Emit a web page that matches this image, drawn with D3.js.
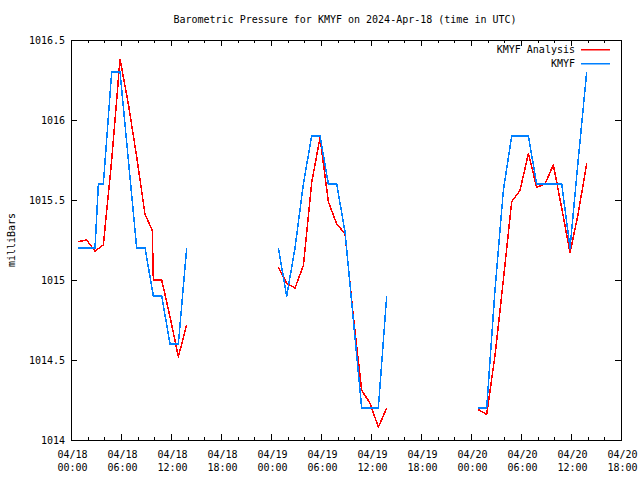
<!DOCTYPE html>
<html>
<head>
<meta charset="utf-8">
<script src="https://cdn.jsdelivr.net/npm/d3@7/dist/d3.min.js"></script>
<style>
  html, body { margin: 0; padding: 0; background: #fff; }
  text { font-family: "DejaVu Sans Mono", "Liberation Mono", monospace; font-size: 10px; fill: #000; }
</style>
</head>
<body>
<svg id="chart" width="640" height="480"></svg>
<script>
// ---- data ----
const chartTitle = "Barometric Pressure for KMYF on 2024-Apr-18 (time in UTC)";
const yLabel = "milliBars";
const seriesNames = ["KMYF Analysis", "KMYF"];
const seriesColors = ["#ff0000", "#0080ff"];

// KMYF Analysis (red)
const analysisTimes = [
  "2024-04-18T00:53","2024-04-18T01:53","2024-04-18T02:53","2024-04-18T03:53","2024-04-18T04:53",
  "2024-04-18T05:53","2024-04-18T06:53","2024-04-18T07:53","2024-04-18T08:53","2024-04-18T09:45",
  "2024-04-18T09:53","2024-04-18T10:53","2024-04-18T11:53","2024-04-18T12:53","2024-04-18T13:53",
  null,
  "2024-04-19T00:53","2024-04-19T01:53","2024-04-19T02:53","2024-04-19T03:53","2024-04-19T04:53",
  "2024-04-19T05:53","2024-04-19T06:53","2024-04-19T07:53","2024-04-19T08:53","2024-04-19T09:53",
  "2024-04-19T10:53","2024-04-19T11:53","2024-04-19T12:53","2024-04-19T13:53",
  null,
  "2024-04-20T00:53","2024-04-20T01:53","2024-04-20T02:53","2024-04-20T03:53","2024-04-20T04:53",
  "2024-04-20T05:53","2024-04-20T06:53","2024-04-20T07:53","2024-04-20T08:53","2024-04-20T09:53",
  "2024-04-20T10:53","2024-04-20T11:53","2024-04-20T12:53","2024-04-20T13:53"
];
const analysisValues = [
  1015.24,1015.25,1015.18,1015.22,1015.75,
  1016.38,1016.10,1015.77,1015.41,1015.31,
  1015.00,1015.00,1014.77,1014.52,1014.72,
  null,
  1015.08,1014.98,1014.95,1015.09,1015.61,
  1015.89,1015.49,1015.35,1015.29,1014.77,
  1014.31,1014.23,1014.08,1014.20,
  null,
  1014.19,1014.16,1014.53,1015.00,1015.49,
  1015.56,1015.79,1015.58,1015.60,1015.72,
  1015.45,1015.17,1015.42,1015.73
];

// KMYF observations (blue)
const obsTimes = [
  "2024-04-18T00:53","2024-04-18T01:53","2024-04-18T02:53","2024-04-18T03:17","2024-04-18T03:53",
  "2024-04-18T04:53","2024-04-18T05:53","2024-04-18T06:53","2024-04-18T07:53","2024-04-18T08:53",
  "2024-04-18T09:53","2024-04-18T10:53","2024-04-18T11:53","2024-04-18T12:53","2024-04-18T13:53",
  null,
  "2024-04-19T00:53","2024-04-19T01:53","2024-04-19T02:53","2024-04-19T03:53","2024-04-19T04:53",
  "2024-04-19T05:53","2024-04-19T06:53","2024-04-19T07:53","2024-04-19T08:53","2024-04-19T09:53",
  "2024-04-19T10:53","2024-04-19T11:53","2024-04-19T12:53","2024-04-19T13:53",
  null,
  "2024-04-20T00:53","2024-04-20T01:53","2024-04-20T02:53","2024-04-20T03:53","2024-04-20T04:53",
  "2024-04-20T05:53","2024-04-20T06:53","2024-04-20T07:53","2024-04-20T08:53","2024-04-20T09:53",
  "2024-04-20T10:53","2024-04-20T11:53","2024-04-20T12:53","2024-04-20T13:53"
];
const obsValues = [
  1015.2,1015.2,1015.2,1015.6,1015.6,
  1016.3,1016.3,1015.75,1015.2,1015.2,
  1014.9,1014.9,1014.6,1014.6,1015.2,
  null,
  1015.2,1014.9,1015.2,1015.6,1015.9,
  1015.9,1015.6,1015.6,1015.3,1014.75,
  1014.2,1014.2,1014.2,1014.9,
  null,
  1014.2,1014.2,1014.94,1015.56,1015.9,
  1015.9,1015.9,1015.6,1015.6,1015.6,
  1015.6,1015.2,1015.76,1016.3
];

const yTickValues = [1014, 1014.5, 1015, 1015.5, 1016, 1016.5];
const xStart = "2024-04-18T00:00";
const xEnd = "2024-04-20T18:00";

// ---- drawing ----
const W = 640, H = 480;
const M = { left: 71, right: 19, top: 40, bottom: 40 };
const svg = d3.select("#chart");
const parse = s => s === null ? null : new Date(s + ":00Z");

const x = d3.scaleUtc().domain([parse(xStart), parse(xEnd)]).range([M.left, W - M.right]);
const y = d3.scaleLinear().domain([1014, 1016.5]).range([H - M.bottom, M.top]);

const fmtDate = d3.utcFormat("%m/%d");
const fmtTime = d3.utcFormat("%H:%M");

// minor x ticks (2h), bottom & top
const minorB = d3.axisBottom(x).ticks(d3.utcHour.every(2)).tickSizeInner(-3).tickSizeOuter(0).tickFormat("");
const minorT = d3.axisTop(x).ticks(d3.utcHour.every(2)).tickSizeInner(-3).tickSizeOuter(0).tickFormat("");
svg.append("g").attr("transform", `translate(0,${H - M.bottom})`).call(minorB);
svg.append("g").attr("transform", `translate(0,${M.top})`).call(minorT);

// major x ticks (6h)
const majorB = d3.axisBottom(x).ticks(d3.utcHour.every(6)).tickSizeInner(-6).tickSizeOuter(0).tickPadding(8);
const gxb = svg.append("g").attr("transform", `translate(0,${H - M.bottom})`).call(majorB);
gxb.selectAll(".tick text").each(function(d) {
  const t = d3.select(this);
  t.text(null).attr("y", 18).attr("dy", null);
  t.append("tspan").attr("x", 1).text(fmtDate(d));
  t.append("tspan").attr("x", 1).attr("dy", 13).text(fmtTime(d));
});
const majorT = d3.axisTop(x).ticks(d3.utcHour.every(6)).tickSizeInner(-6).tickSizeOuter(0).tickFormat("");
svg.append("g").attr("transform", `translate(0,${M.top})`).call(majorT);

// y axes
const yl = d3.axisLeft(y).tickValues(yTickValues).tickSizeInner(-6).tickSizeOuter(0).tickPadding(6).tickFormat(d => String(d));
const gyl = svg.append("g").attr("transform", `translate(${M.left},0)`).call(yl);
gyl.selectAll(".tick text").attr("dy", "0.35em");
const yr = d3.axisRight(y).tickValues(yTickValues).tickSizeInner(-6).tickSizeOuter(0).tickFormat("");
svg.append("g").attr("transform", `translate(${W - M.right},0)`).call(yr);

svg.selectAll(".domain").remove();
svg.selectAll(".tick line").attr("stroke", "#000").attr("shape-rendering", "crispEdges");
svg.selectAll(".tick text").style("font-family", "DejaVu Sans Mono").style("font-size", "10px");

// frame
svg.append("rect")
  .attr("x", M.left + 0.5).attr("y", M.top + 0.5)
  .attr("width", W - M.left - M.right).attr("height", H - M.top - M.bottom)
  .attr("fill", "none").attr("stroke", "#000").attr("stroke-width", 1)
  .attr("shape-rendering", "crispEdges");

// series
const line = d3.line()
  .defined(d => d.t !== null && d.v !== null)
  .x(d => x(d.t)).y(d => y(d.v));

const series = [
  analysisTimes.map((t, i) => ({ t: parse(t), v: analysisValues[i] })),
  obsTimes.map((t, i) => ({ t: parse(t), v: obsValues[i] }))
];
series.forEach((data, i) => {
  svg.append("path").datum(data)
    .attr("fill", "none").attr("stroke", seriesColors[i]).attr("stroke-width", 1.5)
    .attr("stroke-linejoin", "round")
    .attr("shape-rendering", "crispEdges")
    .attr("d", line);
});

// legend
const lx1 = 581, lx2 = 610;
seriesNames.forEach((name, i) => {
  const ly = 49 + i * 14;
  svg.append("text").attr("x", 575).attr("y", ly + 0.5).attr("dy", "0.35em")
    .attr("text-anchor", "end").text(name);
  svg.append("rect").attr("x", lx1).attr("y", ly).attr("width", lx2 - lx1).attr("height", 1.5)
    .attr("fill", seriesColors[i]).attr("stroke", "none");
});

// title
svg.append("text").attr("x", 345).attr("y", 19).attr("dy", "0.35em")
  .attr("text-anchor", "middle").text(chartTitle);

// y label
svg.append("text").attr("transform", `translate(11,240) rotate(-90)`)
  .attr("text-anchor", "middle").attr("dy", "0.35em").text(yLabel);
</script>
</body>
</html>
